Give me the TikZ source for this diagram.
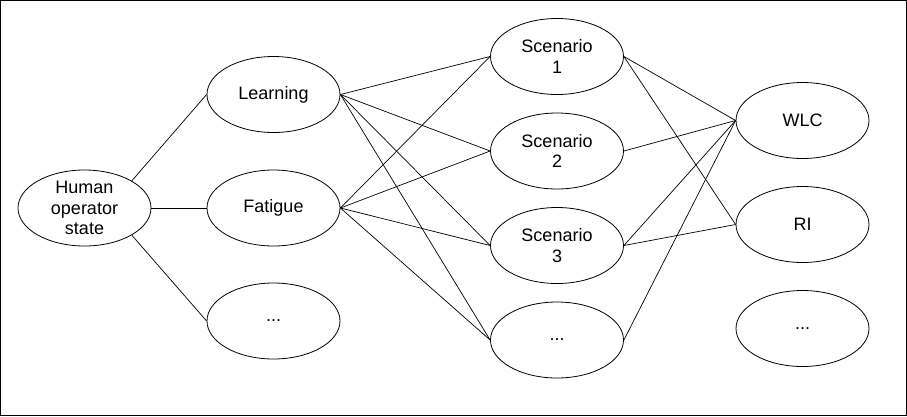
\documentclass[tikz,border=0pt]{standalone}
\usepackage{fontspec}
\setmainfont{Liberation Sans}
\usetikzlibrary{shapes}

\begin{document}
\begin{tikzpicture}[x=1pt,y=-1pt,
        state/.style={ellipse,draw,line width=0.8pt,minimum width=133pt,minimum height=76pt,
            inner xsep=0pt,inner ysep=-6pt,align=center,font=\fontsize{18}{20.5}\selectfont},
        link/.style={line width=0.7pt}]
    \useasboundingbox (0,0) rectangle (907,416);
    \draw[line width=0.9pt] (0.5,0.5) rectangle (906.5,415.5);
    % first column
    \node[state] (human) at (84.5,208) {Human\\operator\\state};
    % second column
    \node[state] (learning) at (273.5,94.5) {Learning};
    \node[state] (fatigue) at (273.5,208) {Fatigue};
    \node[state] (moreA) at (273.5,321) {...};
    % third column
    \node[state] (scen1) at (557,56.5) {Scenario\\1};
    \node[state] (scen2) at (557,151) {Scenario\\2};
    \node[state] (scen3) at (557,245.5) {Scenario\\3};
    \node[state] (moreB) at (557,340) {...};
    % fourth column
    \node[state] (wlc) at (802.5,120.5) {WLC};
    \node[state] (ri) at (802.5,224.5) {RI};
    \node[state] (moreC) at (802.5,328.5) {...};

    \draw[link] (human.north east) -- (learning.west);
    \draw[link] (human.east) -- (fatigue.west);
    \draw[link] (human.south east) -- (moreA.west);
    \foreach \src in {learning,fatigue}
        \foreach \dst in {scen1,scen2,scen3,moreB}
            \draw[link] (\src.east) -- (\dst.west);
    \foreach \src in {scen1,scen2,scen3,moreB}
        \draw[link] (\src.east) -- (wlc.west);
    \draw[link] (scen1.east) -- (ri.west);
    \draw[link] (scen3.east) -- (ri.west);
\end{tikzpicture}
\end{document}
